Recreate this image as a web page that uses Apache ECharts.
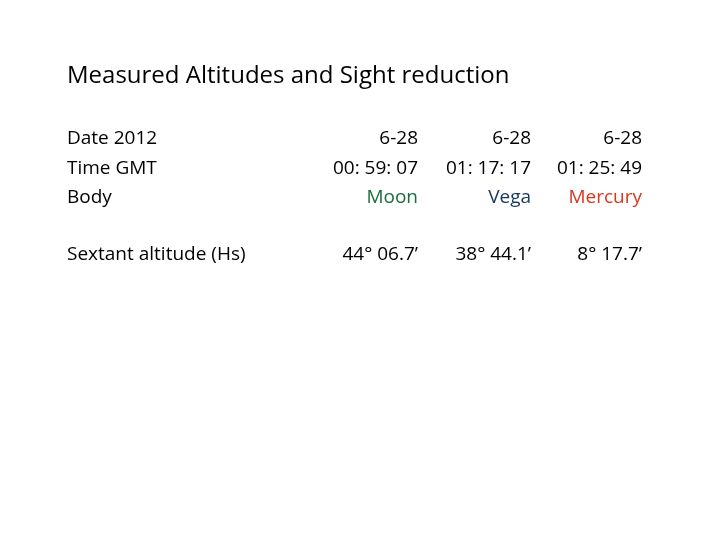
<!DOCTYPE html>
<html><head><meta charset="utf-8">
<script src="https://cdn.jsdelivr.net/npm/echarts@6/dist/echarts.min.js"></script>
<style>html,body{margin:0;background:#fff}#c{width:720px;height:540px}</style>
</head><body><div id="c"></div>
<script>
var title = 'Measured Altitudes and Sight reduction';
var rowLabels = ['Date 2012', 'Time GMT', 'Body', 'Sextant altitude (Hs)'];
var dates = ['6-28', '6-28', '6-28'];
var times = ['00: 59: 07', '01: 17: 17', '01: 25: 49'];
var bodies = ['Moon', 'Vega', 'Mercury'];
var bodyColors = ['#1a6e3c', '#17375e', '#d9381e'];
var altitudes = ['44° 06.7’', '38° 44.1’', '8° 17.7’'];

var font = '"Open Sans", "Liberation Sans", sans-serif';
var rowY = [139, 169, 198, 255];
var colX = [418, 531, 642];
var els = [];
function txt(x, y, s, color, align, size) {
  els.push({type:'text', x:x, y:y, style:{text:s, fill:color||'#000', font:(size||19)+'px '+font, textAlign:align||'left', textVerticalAlign:'middle'}});
}
txt(67, 76, title, '#000', 'left', 24);
rowLabels.forEach(function(l,i){ txt(67, rowY[i], l); });
for (var j=0;j<3;j++){
  txt(colX[j], rowY[0], dates[j], '#000', 'right');
  txt(colX[j], rowY[1], times[j], '#000', 'right');
  txt(colX[j], rowY[2], bodies[j], bodyColors[j], 'right');
  txt(colX[j], rowY[3], altitudes[j], '#000', 'right');
}
var chart = echarts.init(document.getElementById('c'));
chart.setOption({graphic: els});
</script></body></html>
